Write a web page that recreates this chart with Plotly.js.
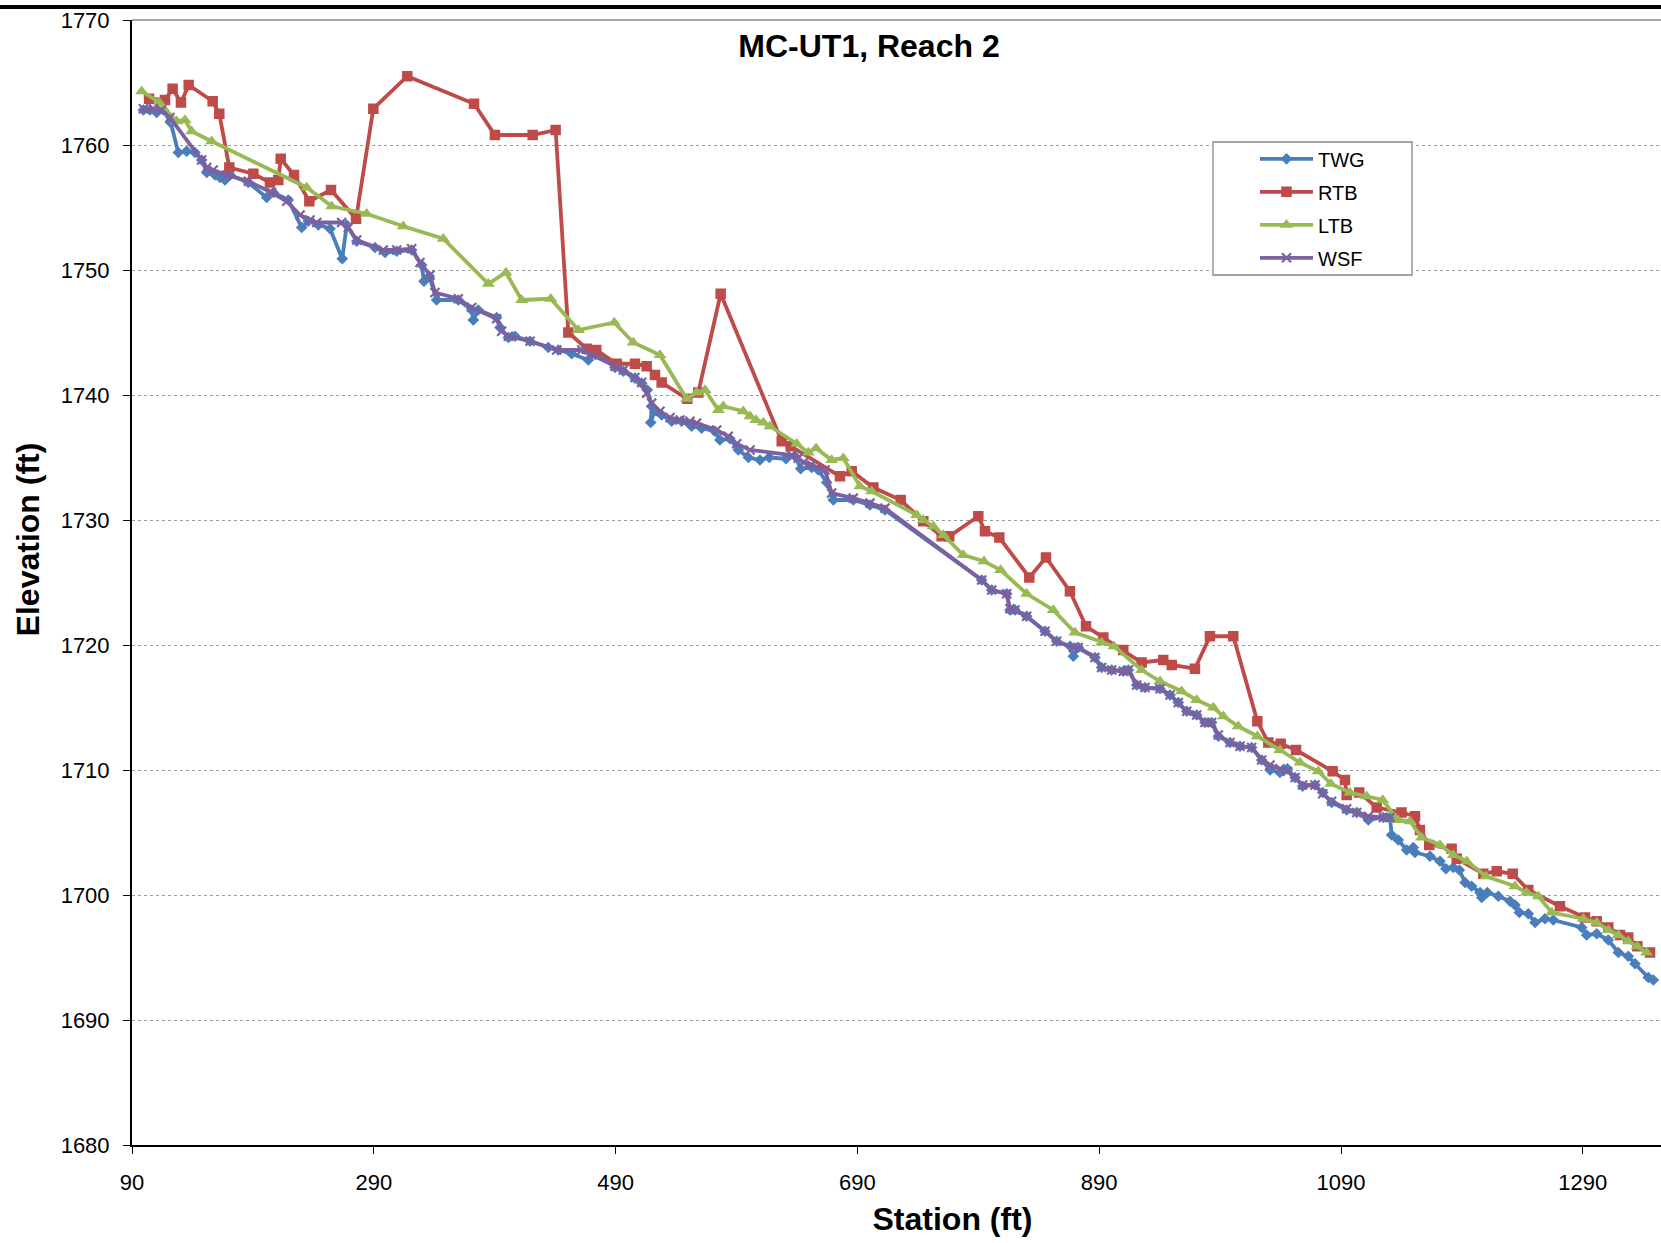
<!DOCTYPE html>
<html>
<head>
<meta charset="utf-8">
<script src="https://cdn.plot.ly/plotly-3.0.1.min.js"></script>
<style>html,body{margin:0;padding:0;background:#fff;overflow:hidden}</style>
</head>
<body>
<div id="chart" style="width:1661px;height:1243px"></div>
<script>
// ---------- DATA ----------
const chartTitle = 'MC-UT1, Reach 2';
const xTitle = 'Station (ft)';
const yTitle = 'Elevation (ft)';
const seriesNames = ['TWG', 'RTB', 'LTB', 'WSF'];

const twgStation = [
  99.4, 104.9, 110.4, 115.9, 122.0, 128.3, 135.2, 142.1, 147.6, 151.8,
  158.7, 162.8, 166.9, 171.1, 186.2, 201.4, 206.9, 219.3, 230.4, 235.8,
  244.1, 253.8, 263.9, 267.6, 275.9, 291.0, 299.3, 308.9, 321.3, 329.6,
  331.5, 335.9, 342.0, 359.9, 371.0, 372.3, 376.4, 391.6, 394.4, 401.3,
  406.8, 419.2, 434.3, 442.6, 453.7, 467.4, 474.4, 489.5, 496.4, 506.0,
  511.6, 516.2, 519.8, 519.0, 522.6, 528.1, 536.4, 544.6, 552.9, 561.2,
  572.2, 576.3, 584.6, 591.5, 599.8, 609.4, 617.1, 630.9, 638.4, 643.1,
  652.2, 657.7, 664.6, 670.1, 686.6, 700.4, 712.8, 792.8, 801.1, 813.5,
  816.2, 820.4, 830.0, 845.2, 854.8, 866.0, 868.6, 872.7, 886.5, 892.0,
  900.3, 909.9, 914.1, 921.0, 927.9, 940.3, 948.6, 955.4, 962.4, 970.6,
  977.5, 983.0, 988.5, 998.2, 1006.5, 1016.1, 1024.4, 1031.3, 1039.5, 1045.6,
  1052.0, 1058.3, 1068.5, 1074.9, 1082.3, 1094.7, 1103.0, 1112.6, 1125.0, 1130.5,
  1131.9, 1137.4, 1144.3, 1149.8, 1151.2, 1163.6, 1171.9, 1176.8, 1182.9, 1187.9,
  1192.6, 1198.1, 1205.0, 1206.4, 1211.0, 1220.1, 1229.8, 1233.9, 1237.5, 1244.9,
  1250.5, 1258.7, 1265.6, 1289.1, 1293.2, 1301.5, 1311.1, 1319.4, 1327.6, 1333.2,
  1344.2, 1348.3
];
const twgElev = [
  1762.8, 1762.8, 1762.6, 1762.8, 1761.8, 1759.4, 1759.5, 1759.4, 1758.8, 1757.8,
  1757.6, 1757.4, 1757.2, 1757.6, 1757.0, 1755.8, 1756.2, 1755.6, 1753.4, 1753.9,
  1753.6, 1753.3, 1750.9, 1753.6, 1752.3, 1751.8, 1751.4, 1751.5, 1751.6, 1750.4,
  1749.1, 1749.5, 1747.6, 1747.6, 1746.8, 1746.0, 1746.8, 1746.2, 1745.4, 1744.6,
  1744.7, 1744.3, 1743.8, 1743.6, 1743.3, 1742.8, 1743.4, 1742.2, 1741.9, 1741.35,
  1740.95, 1740.4, 1739.1, 1737.8, 1738.8, 1738.4, 1737.9, 1737.9, 1737.5, 1737.35,
  1737.1, 1736.4, 1736.5, 1735.6, 1735.0, 1734.8, 1735.0, 1734.9, 1735.1, 1734.1,
  1734.2, 1734.0, 1733.0, 1731.6, 1731.6, 1731.2, 1730.8, 1725.2, 1724.4, 1724.1,
  1722.8, 1722.8, 1722.3, 1721.1, 1720.3, 1719.9, 1719.1, 1719.8, 1719.0, 1718.2,
  1718.0, 1717.9, 1718.0, 1716.8, 1716.6, 1716.5, 1716.0, 1715.4, 1714.7, 1714.4,
  1713.8, 1713.8, 1712.7, 1712.2, 1711.9, 1711.8, 1710.8, 1710.0, 1709.8, 1710.1,
  1709.4, 1708.7, 1708.8, 1708.2, 1707.4, 1706.8, 1706.6, 1706.0, 1706.2, 1706.2,
  1704.8, 1704.4, 1703.6, 1703.8, 1703.4, 1703.1, 1702.7, 1702.1, 1702.2, 1702.0,
  1701.0, 1700.7, 1700.2, 1699.8, 1700.2, 1699.9, 1699.5, 1699.2, 1698.6, 1698.5,
  1697.8, 1698.1, 1698.0, 1697.4, 1696.8, 1696.9, 1696.4, 1695.4, 1695.1, 1694.5,
  1693.4, 1693.2
];

const rtbStation = [
  104.1, 117.3, 123.6, 130.5, 136.9, 156.7, 162.2, 170.5, 190.4, 204.1,
  211.0, 213.0, 224.0, 236.7, 254.6, 275.3, 289.6, 317.7, 372.9, 390.2,
  421.4, 440.4, 450.9, 466.0, 474.0, 490.9, 506.0, 515.7, 522.6, 528.1,
  549.3, 558.4, 576.9, 627.4, 634.8, 675.6, 685.3, 703.2, 725.8, 744.5,
  759.7, 766.0, 790.0, 795.5, 807.4, 832.2, 846.0, 865.8, 879.1, 893.4,
  909.9, 925.1, 943.0, 950.0, 969.2, 981.6, 1000.9, 1020.8, 1029.9, 1040.1,
  1052.8, 1083.1, 1093.3, 1094.7, 1105.1, 1119.5, 1140.0, 1151.2, 1155.3, 1163.0,
  1181.5, 1185.7, 1207.7, 1218.8, 1232.0, 1244.9, 1271.1, 1291.8, 1301.5, 1311.1,
  1320.8, 1327.6, 1335.1, 1345.6
];
const rtbElev = [
  1763.7, 1763.6, 1764.5, 1763.4, 1764.8, 1763.5, 1762.5, 1758.2, 1757.7, 1757.0,
  1757.2, 1758.9, 1757.6, 1755.5, 1756.4, 1754.1, 1762.9, 1765.5, 1763.3, 1760.8,
  1760.8, 1761.2, 1745.0, 1743.7, 1743.6, 1742.5, 1742.5, 1742.3, 1741.6, 1741.0,
  1739.7, 1740.2, 1748.1, 1736.3, 1735.9, 1733.5, 1733.9, 1732.6, 1731.6, 1729.9,
  1728.7, 1728.7, 1730.3, 1729.1, 1728.6, 1725.4, 1727.0, 1724.3, 1721.5, 1720.6,
  1719.6, 1718.6, 1718.8, 1718.4, 1718.1, 1720.7, 1720.7, 1713.9, 1712.2, 1712.1,
  1711.6, 1709.9, 1709.2, 1708.0, 1708.2, 1707.0, 1706.6, 1706.3, 1705.2, 1704.0,
  1703.7, 1702.9, 1701.7, 1701.9, 1701.7, 1700.4, 1699.1, 1698.2, 1697.9, 1697.4,
  1696.8, 1696.6, 1695.9, 1695.4
];

const ltbStation = [
  98.0, 112.6, 127.0, 133.8, 139.3, 155.9, 234.5, 255.2, 284.1, 314.4,
  347.5, 384.7, 399.3, 412.3, 436.3, 459.2, 488.9, 504.6, 526.7, 548.8,
  557.1, 564.0, 575.0, 579.1, 595.6, 601.2, 606.1, 612.2, 617.7, 639.8,
  649.4, 655.8, 668.7, 678.3, 692.1, 701.8, 739.1, 744.5, 752.8, 761.1,
  777.6, 794.7, 808.5, 830.0, 852.0, 870.0, 892.0, 902.2, 925.1, 940.3,
  958.2, 970.6, 984.4, 992.7, 1005.0, 1020.8, 1039.5, 1056.1, 1071.2, 1081.5,
  1097.4, 1111.2, 1124.5, 1137.0, 1147.1, 1156.7, 1171.9, 1182.9, 1194.0, 1209.9,
  1233.9, 1243.6, 1253.2, 1264.3, 1290.4, 1301.5, 1311.1, 1319.4, 1327.6, 1335.1,
  1342.8
];
const ltbElev = [
  1764.3, 1763.4, 1761.9, 1762.0, 1761.1, 1760.3, 1756.6, 1755.1, 1754.5, 1753.5,
  1752.5, 1748.9, 1749.8, 1747.6, 1747.7, 1745.2, 1745.8, 1744.2, 1743.2, 1739.7,
  1740.2, 1740.4, 1738.8, 1739.1, 1738.7, 1738.3, 1738.0, 1737.8, 1737.5, 1736.1,
  1735.4, 1735.75, 1734.8, 1734.95, 1732.7, 1732.3, 1730.4, 1730.0, 1729.5, 1728.8,
  1727.2, 1726.7, 1726.0, 1724.1, 1722.8, 1721.0, 1720.2, 1719.9, 1718.0, 1717.1,
  1716.3, 1715.6, 1715.0, 1714.3, 1713.5, 1712.7, 1711.6, 1710.6, 1709.9, 1708.9,
  1708.2, 1707.9, 1707.6, 1706.0, 1705.9, 1704.6, 1704.0, 1703.2, 1702.7, 1701.5,
  1700.7, 1700.2, 1699.9, 1698.6, 1698.1, 1697.8, 1697.2, 1696.8, 1696.3, 1695.9,
  1695.4
];

const wsfStation = [
  99.4, 107.6, 114.5, 121.4, 147.6, 151.8, 157.2, 168.3, 186.2, 205.5,
  218.0, 229.0, 237.2, 242.8, 263.4, 268.9, 275.9, 297.9, 308.9, 321.3,
  328.2, 336.5, 340.6, 359.9, 371.0, 391.6, 395.8, 401.3, 419.2, 441.3,
  462.0, 470.2, 489.5, 496.4, 506.0, 511.6, 515.7, 519.8, 526.7, 535.0,
  543.3, 551.5, 557.0, 573.6, 583.2, 590.2, 601.2, 635.6, 641.1, 645.3,
  652.2, 663.2, 668.7, 686.6, 700.4, 712.8, 792.8, 801.1, 813.5, 816.2,
  820.4, 830.0, 845.2, 854.8, 868.6, 872.7, 886.5, 892.0, 900.3, 909.9,
  914.1, 921.0, 927.9, 940.3, 948.6, 955.4, 962.4, 970.6, 977.5, 983.0,
  988.5, 998.2, 1006.5, 1016.1, 1024.4, 1031.3, 1039.5, 1045.6, 1052.0, 1058.3,
  1068.5, 1074.9, 1082.3, 1094.7, 1103.0, 1112.6, 1125.0, 1130.5
];
const wsfElev = [
  1762.9, 1762.9, 1762.8, 1762.2, 1758.8, 1758.2, 1758.0, 1757.6, 1757.1, 1756.2,
  1755.5, 1754.4, 1754.0, 1753.8, 1753.8, 1753.4, 1752.4, 1751.6, 1751.6, 1751.7,
  1750.6, 1749.6, 1748.2, 1747.7, 1747.0, 1746.1, 1745.1, 1744.7, 1744.3, 1743.6,
  1743.6, 1743.2, 1742.3, 1742.0, 1741.4, 1741.0, 1740.15, 1739.35, 1738.7, 1738.2,
  1738.0, 1737.9, 1737.75, 1737.2, 1736.7, 1736.1, 1735.6, 1735.2, 1734.95, 1734.6,
  1734.4, 1734.0, 1732.15, 1731.75, 1731.35, 1730.95, 1725.2, 1724.4, 1724.1, 1722.9,
  1722.8, 1722.3, 1721.1, 1720.3, 1719.8, 1719.8, 1719.0, 1718.2, 1718.0, 1717.9,
  1718.0, 1716.8, 1716.6, 1716.5, 1716.0, 1715.4, 1714.7, 1714.4, 1713.8, 1713.8,
  1712.8, 1712.2, 1711.9, 1711.8, 1710.8, 1710.4, 1710.1, 1709.9, 1709.4, 1708.8,
  1708.8, 1708.1, 1707.5, 1706.9, 1706.6, 1706.3, 1706.2, 1706.2
];

// ---------- LAYOUT / STYLE ----------
const W = 1661, H = 1243;
const ML = 132, MR = 0, MT = 20, MB = 98;
const PW = W - ML - MR, PH = H - MT - MB;
const PX_PER_FT = 1.209;
const px2x = X => (X - ML) / PW;
const px2y = Y => (H - MB - Y) / PH;
const FONT = '"Liberation Sans", Arial, Helvetica, sans-serif';

const colors = { TWG: '#4A7EBB', RTB: '#BE4B48', LTB: '#98B954', WSF: '#7D60A0' };

function mk(name, xs, ys, symbol, size, extraMarker) {
  return {
    type: 'scatter', mode: 'lines+markers', name: name, legendgroup: name,
    x: xs, y: ys,
    line: { color: colors[name], width: 3.8 },
    marker: Object.assign({ symbol: symbol, size: size, color: colors[name] }, extraMarker || {}),
    hoverinfo: 'skip'
  };
}

const data = [
  mk('TWG', twgStation, twgElev, 'diamond', 9),
  mk('RTB', rtbStation, rtbElev, 'square', 10.5),
  mk('LTB', ltbStation, ltbElev, 'triangle-up', 11.5),
  mk('WSF', wsfStation, wsfElev, 'x-thin', 9, { line: { color: colors.WSF, width: 2.2 } })
];

const layout = {
  width: W, height: H,
  margin: { l: ML, r: MR, t: MT, b: MB, pad: 0 },
  paper_bgcolor: '#ffffff', plot_bgcolor: '#ffffff',
  font: { family: FONT, color: '#000000', size: 22 },
  title: {
    text: chartTitle,
    font: { family: FONT, size: 32, weight: 'bold', color: '#000' },
    x: 869 / W, xref: 'container', xanchor: 'center',
    y: 1 - 46 / H, yref: 'container', yanchor: 'middle'
  },
  xaxis: {
    range: [90, 90 + PW / PX_PER_FT],
    tickmode: 'linear', tick0: 90, dtick: 200,
    ticks: 'outside', ticklen: 7, tickwidth: 1, tickcolor: '#000',
    showline: true, linecolor: '#000', linewidth: 2,
    showgrid: false, zeroline: false,
    tickfont: { family: FONT, size: 22, color: '#000' },
    ticklabelstandoff: 10,
    title: { text: xTitle, font: { family: FONT, size: 32, weight: 'bold', color: '#000' }, standoff: 20 },
    fixedrange: true
  },
  yaxis: {
    range: [1680, 1770],
    tickmode: 'linear', tick0: 1680, dtick: 10,
    ticks: 'outside', ticklen: 7, tickwidth: 1, tickcolor: '#000',
    showline: true, linecolor: '#000', linewidth: 2,
    showgrid: true, gridcolor: '#9c9c9c', gridwidth: 1, griddash: 'dot',
    zeroline: false,
    tickfont: { family: FONT, size: 22, color: '#000' },
    ticklabelstandoff: 9,
    title: { text: yTitle, font: { family: FONT, size: 32, weight: 'bold', color: '#000' }, standoff: 16 },
    fixedrange: true
  },
  showlegend: true,
  legend: {
    x: px2x(1255), y: px2y(139.3), xanchor: 'left', yanchor: 'top',
    xref: 'paper', yref: 'paper',
    bgcolor: 'rgba(0,0,0,0)', borderwidth: 0,
    font: { family: FONT, size: 20, color: '#000' },
    itemwidth: 53, traceorder: 'grouped', tracegroupgap: 4
  },
  shapes: [
    { type: 'rect', xref: 'paper', yref: 'paper', layer: 'above',
      x0: px2x(1213), x1: px2x(1412), y0: px2y(275), y1: px2y(142),
      line: { color: '#878787', width: 1.3 }, fillcolor: '#ffffff' },
    { type: 'line', xref: 'paper', yref: 'paper', layer: 'above',
      x0: 0, x1: 1, y0: 1, y1: 1, line: { color: '#8a8a8a', width: 1.6 } },
    { type: 'line', xref: 'paper', yref: 'paper', layer: 'above',
      x0: px2x(0), x1: px2x(W), y0: px2y(7), y1: px2y(7), line: { color: '#000', width: 4 } }
  ]
};

Plotly.newPlot('chart', data, layout, { staticPlot: true, displayModeBar: false }).then(function (gd) {
  const root = gd.getBoundingClientRect();
  function place(sel, cx, cy) {
    const el = gd.querySelector(sel);
    if (!el) return;
    const r = el.getBoundingClientRect();
    const dx = cx - (r.left + r.width / 2 - root.left);
    const dy = cy - (r.top + r.height / 2 - root.top);
    const t = el.getAttribute('transform') || '';
    el.setAttribute('transform', 'translate(' + dx.toFixed(1) + ',' + dy.toFixed(1) + ') ' + t);
  }
  place('.g-xtitle text', 952.5, 1219);
  place('.g-ytitle text', 27.5, 539.5);
  place('.g-gtitle text', 869, 46);
});
</script>
</body>
</html>
